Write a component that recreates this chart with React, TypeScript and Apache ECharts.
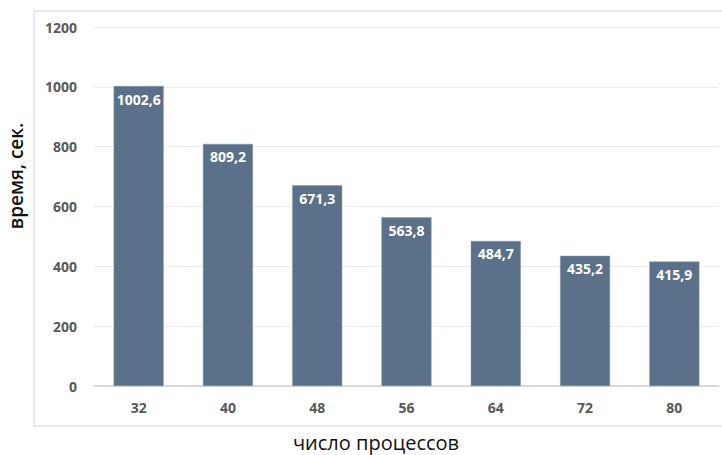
import React, { useEffect, useRef } from "react";
import * as echarts from "echarts";

const categories = ["32", "40", "48", "56", "64", "72", "80"];
const times = [1002.6, 809.2, 671.3, 563.8, 484.7, 435.2, 415.9];
const yTicks = { min: 0, max: 1200, interval: 200 };
const xAxisName = "число процессов";
const yAxisName = "время, сек.";

const tickFont = "'Noto Sans', 'Open Sans', sans-serif";
const titleFont = "'Open Sans', 'Noto Sans', sans-serif";

export default function App() {
  const ref = useRef<HTMLDivElement>(null);
  useEffect(() => {
    if (!ref.current) return;
    const chart = echarts.init(ref.current, null, { renderer: "svg" });
    chart.setOption({
      animation: false,
      backgroundColor: "#ffffff",
      graphic: [
        {
          type: "rect",
          shape: { x: 34, y: 11, width: 720, height: 415 },
          style: { fill: "none", stroke: "#e2e2e2", lineWidth: 1.5 },
          silent: true,
        },
        {
          type: "text",
          x: 376,
          y: 442,
          style: {
            text: xAxisName,
            fontFamily: titleFont,
            fontSize: 20,
            fontWeight: 500,
            lineHeight: 20,
            fill: "#111",
            align: "center",
            verticalAlign: "middle",
          },
        },
        {
          type: "text",
          x: 16,
          y: 176,
          rotation: Math.PI / 2,
          style: {
            text: yAxisName,
            fontFamily: titleFont,
            fontSize: 19,
            fontWeight: 600,
            fill: "#111",
            align: "center",
            verticalAlign: "middle",
          },
        },
      ],
      grid: { left: 94, right: 3, top: 27, bottom: 69 },
      xAxis: {
        type: "category",
        data: categories,
        axisLine: { show: true, lineStyle: { color: "#d0d0d0", width: 1.5 } },
        axisTick: { show: false },
        axisLabel: {
          margin: 14,
          fontFamily: tickFont,
          fontWeight: "bold",
          fontSize: 14,
          color: "#595959",
        },
      },
      yAxis: {
        type: "value",
        min: yTicks.min,
        max: yTicks.max,
        interval: yTicks.interval,
        axisLine: { show: false },
        axisTick: { show: false },
        splitLine: { lineStyle: { color: "#ececec", width: 1 } },
        axisLabel: {
          margin: 17,
          formatter: (v: number) => String(v),
          fontFamily: tickFont,
          fontWeight: "bold",
          fontSize: 14,
          color: "#595959",
        },
      },
      series: [
        {
          type: "bar",
          data: times,
          barWidth: 50,
          itemStyle: { color: "#5b7089", borderColor: "#7f93aa", borderWidth: 0.5 },
          label: {
            show: true,
            position: "insideTop",
            distance: 6,
            formatter: (p: any) => String(p.value).replace(".", ","),
            fontFamily: tickFont,
            fontWeight: "bold",
            fontSize: 14,
            color: "#ffffff",
          },
        },
      ],
    });
    return () => chart.dispose();
  }, []);
  return <div ref={ref} style={{ width: 722, height: 455, position: "absolute", left: 0, top: 0 }} />;
}
